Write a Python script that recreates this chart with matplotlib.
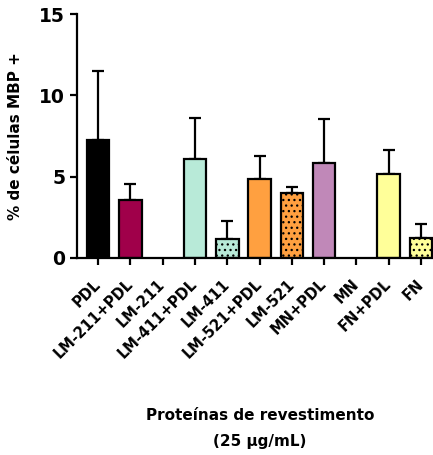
import numpy as np
import matplotlib.pyplot as plt

plt.rcParams['font.family'] = ['DejaVu Sans']
plt.rcParams['font.weight'] = 'bold'
plt.rcParams['hatch.linewidth'] = 0.9

names = ['PDL', 'LM-211+PDL', 'LM-211', 'LM-411+PDL', 'LM-411',
         'LM-521+PDL', 'LM-521', 'MN+PDL', 'MN', 'FN+PDL', 'FN']
means = [7.25, 3.57, 0, 6.09, 1.17, 4.86, 3.97, 5.84, 0, 5.18, 1.25]
errs = [4.25, 1.0, 0, 2.51, 1.13, 1.39, 0.37, 2.72, 0, 1.46, 0.84]
colors = ['black', '#A0004A', 'white', '#B8EAD8', '#B8EAD8',
          '#FFA040', '#FFA040', '#C088B8', 'white', '#FFFF99', '#FFFF99']
hatches = ['', '', '', '', '...', '', '...', '', '', '', '...']

fig = plt.figure(figsize=(4.33, 4.55), dpi=100)
ax = fig.add_axes([0.178, 0.433, 0.822, 0.536])

x = np.arange(len(names))
for i in x:
    if means[i] == 0:
        continue
    ax.bar(i, means[i], width=0.7, color=colors[i], edgecolor='black',
           linewidth=1.6, hatch=hatches[i], zorder=2)
    ax.errorbar(i, means[i], yerr=[[0], [errs[i]]], fmt='none',
                ecolor='black', elinewidth=1.6, capsize=4, capthick=1.6, zorder=1)

ax.set_xlim(-0.65, 10.37)
ax.set_ylim(0, 15)
ax.set_yticks([0, 5, 10, 15])
ax.set_xticks(x)
ax.set_xticklabels(names, rotation=45, ha='right', va='center',
                   rotation_mode='anchor', fontsize=10.5, fontweight='bold')
ax.tick_params(axis='y', labelsize=13.5, width=1.6, length=5)
ax.tick_params(axis='x', width=1.6, length=5, pad=12)
for s in ['top', 'right']:
    ax.spines[s].set_visible(False)
for s in ['left', 'bottom']:
    ax.spines[s].set_linewidth(1.6)
ax.set_ylabel('% de células MBP +', fontsize=11, fontweight='bold', labelpad=12)

fig.text(0.6, 0.086, 'Proteínas de revestimento', ha='center', va='center',
         fontsize=11, fontweight='bold')
fig.text(0.6, 0.029, '(25 µg/mL)', ha='center', va='center',
         fontsize=11, fontweight='bold')

plt.savefig('out.png', dpi=100)
